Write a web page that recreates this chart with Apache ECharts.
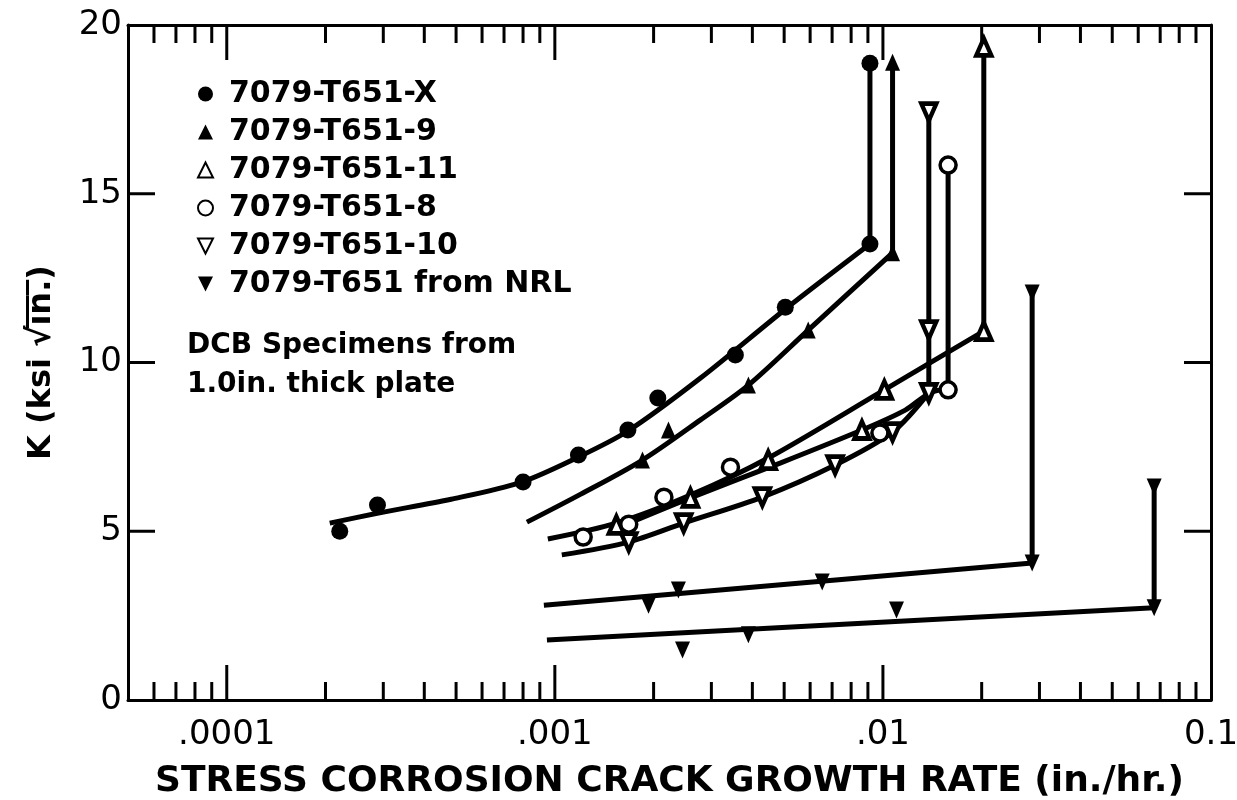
<!DOCTYPE html>
<html><head><meta charset="utf-8">
<script src="https://cdn.jsdelivr.net/npm/echarts@6/dist/echarts.min.js"></script>
<style>html,body{margin:0;padding:0;background:#fff}#c{width:1237px;height:800px}</style>
</head><body><div id="c"></div>
<script>
// ---- axis ticks / labels ----
const xTickValues = [0.0001, 0.001, 0.01, 0.1];
const xTickLabels = ['.0001', '.001', '.01', '0.1'];
const xMajorTickValues = [0.0001, 0.001, 0.01];
const xMinorTickValues = [
  6e-5, 7e-5, 8e-5, 9e-5,
  2e-4, 3e-4, 4e-4, 5e-4, 6e-4, 7e-4, 8e-4, 9e-4,
  2e-3, 3e-3, 4e-3, 5e-3, 6e-3, 7e-3, 8e-3, 9e-3,
  2e-2, 3e-2, 4e-2, 5e-2, 6e-2, 7e-2, 8e-2, 9e-2
];
const yTickValues = [5, 10, 15];
const seriesNames = ['7079-T651-X', '7079-T651-9', '7079-T651-11', '7079-T651-8', '7079-T651-10', '7079-T651 from NRL'];

// ---- 7079-T651-X (filled circles) ----
const ptsX = [[2.21e-4,5.0],[2.88e-4,5.78],[8.0e-4,6.46],[1.18e-3,7.26],[1.67e-3,8.0],[2.06e-3,8.95],[3.55e-3,10.22],[5.04e-3,11.64],[9.13e-3,13.51],[9.13e-3,18.87]];
const curveX = [[2.06e-4,5.24],[2.90e-4,5.54],[4.83e-4,5.95],[7.88e-4,6.45],[1.18e-3,7.2],[1.67e-3,7.97],[2.78e-3,9.54],[5.04e-3,11.58],[9.13e-3,13.51]];
const riseX = [[9.13e-3,13.51],[9.13e-3,18.87]];

// ---- 7079-T651-9 (filled triangles) ----
const pts9 = [[1.85e-3,7.11],[2.22e-3,8.0],[3.89e-3,9.33],[5.92e-3,10.96],[1.07e-2,13.25],[1.07e-2,18.9]];
const curve9 = [[8.22e-4,5.27],[1.2e-3,6.1],[1.85e-3,7.11],[2.78e-3,8.3],[3.89e-3,9.33],[5.92e-3,10.96],[1.07e-2,13.25]];
const rise9 = [[1.07e-2,13.25],[1.07e-2,18.9]];

// ---- 7079-T651-11 (open triangles) ----
const pts11 = [[1.54e-3,5.19],[2.59e-3,5.99],[4.47e-3,7.11],[8.63e-3,8.0],[1.01e-2,9.19],[2.03e-2,10.93],[2.03e-2,19.35]];
const curve11 = [[9.52e-4,4.77],[1.54e-3,5.24],[2.59e-3,6.07],[4.47e-3,7.17],[1.01e-2,9.19],[2.03e-2,10.93]];
const rise11 = [[2.03e-2,10.93],[2.03e-2,19.35]];

// ---- 7079-T651-8 (open circles) ----
const pts8 = [[1.22e-3,4.83],[1.68e-3,5.21],[2.15e-3,6.01],[3.43e-3,6.9],[9.79e-3,7.91],[1.58e-2,9.19],[1.58e-2,15.85]];
const curve8 = [[1.68e-3,5.24],[2.59e-3,5.99],[4.86e-3,7.02],[8.63e-3,8.0],[1.17e-2,8.59],[1.39e-2,9.1],[1.58e-2,9.22]];
const rise8 = [[1.58e-2,9.19],[1.58e-2,15.85]];

// ---- 7079-T651-10 (open down triangles) ----
const pts10 = [[1.68e-3,4.68],[2.47e-3,5.24],[4.29e-3,6.01],[7.15e-3,6.96],[1.07e-2,7.94],[1.38e-2,9.1],[1.38e-2,10.96],[1.38e-2,17.42]];
const curve10 = [[1.05e-3,4.3],[1.68e-3,4.68],[2.47e-3,5.24],[4.29e-3,6.01],[7.15e-3,6.96],[1.07e-2,7.94],[1.38e-2,9.1]];
const rise10 = [[1.38e-2,9.1],[1.38e-2,17.42]];

// ---- 7079-T651 from NRL (filled down triangles) ----
const ptsNRL = [[1.93e-3,2.81],[2.38e-3,3.26],[6.53e-3,3.5],[2.85e-2,4.06],[2.85e-2,12.06],[2.45e-3,1.48],[3.89e-3,1.93],[1.10e-2,2.67],[6.71e-2,2.73],[6.71e-2,6.31]];
const curveNRLa = [[9.26e-4,2.81],[2.85e-2,4.06]];
const riseNRLa = [[2.85e-2,4.06],[2.85e-2,12.06]];
const curveNRLb = [[9.46e-4,1.78],[6.71e-2,2.73]];
const riseNRLb = [[6.71e-2,2.73],[6.71e-2,6.31]];

const FONT = 'DejaVu Sans';
const DOWN_TRI = 'path://M0,0L10,0L5,10Z';
const UP_TRI = 'path://M5,0L10,10L0,10Z';
const Y_MIN = 0, Y_MAX = 20;

function curve(data, smooth) {
  return {type:'line', data, smooth: smooth ? 0.3 : false, symbol:'none', silent:true,
    lineStyle:{color:'#000', width:5}, z:2};
}
function pts(name, data, symbol, size, open, bw) {
  return {type:'scatter', name, data, symbol, symbolSize:size, z:5,
    itemStyle:{color: open ? '#fff' : '#000', borderColor:'#000', borderWidth: open ? bw : 0, opacity:1}};
}
function xTicks(values, len) {
  return {type:'custom', silent:true, clip:false, z:3,
    data: values.map(v=>[v, Y_MIN]),
    renderItem:(params, api)=>{
      const v = api.value(0);
      const b = api.coord([v, Y_MIN]); const t = api.coord([v, Y_MAX]);
      return {type:'group', children:[
        {type:'line', shape:{x1:b[0], y1:b[1], x2:b[0], y2:b[1]-len}, style:{stroke:'#000', lineWidth:3}},
        {type:'line', shape:{x1:t[0], y1:t[1], x2:t[0], y2:t[1]+len}, style:{stroke:'#000', lineWidth:3}}
      ]};
    }};
}
function yTicks(values, len) {
  return {type:'custom', silent:true, clip:false, z:3,
    data: values.map(v=>[5e-5, v]),
    renderItem:(params, api)=>{
      const v = api.value(1);
      const l = api.coord([5e-5, v]); const r = api.coord([0.1, v]);
      return {type:'group', children:[
        {type:'line', shape:{x1:l[0], y1:l[1], x2:l[0]+len, y2:l[1]}, style:{stroke:'#000', lineWidth:3}},
        {type:'line', shape:{x1:r[0], y1:r[1], x2:r[0]-len, y2:r[1]}, style:{stroke:'#000', lineWidth:3}}
      ]};
    }};
}

const chart = echarts.init(document.getElementById('c'), null, {renderer:'canvas'});
const axisLine = {show:true, onZero:false, lineStyle:{color:'#000', width:3}};
chart.setOption({
  backgroundColor:'#fff',
  animation:false,
  grid:{left:128, right:26, top:25, bottom:100, outerBoundsMode:'none', containLabel:false},
  legend:{
    data: seriesNames.map((n,i)=>({name:n, icon: [ 'circle', UP_TRI, UP_TRI, 'circle', DOWN_TRI, DOWN_TRI ][i]})),
    orient:'vertical', left:192, top:74, itemWidth:15, itemHeight:15, itemGap:8,
    selectedMode:false,
    textStyle:{fontFamily:FONT, fontWeight:'bold', fontSize:30, color:'#000', lineHeight:30, padding:[0,0,0,11]}
  },
  xAxis:[
    {type:'log', logBase:10, min:5e-5, max:0.1, position:'bottom',
     axisLine, splitLine:{show:false}, axisTick:{show:false},
     axisLabel:{show:true, margin:18, color:'#000', fontFamily:FONT, fontSize:34,
       formatter:(v)=>{const i = xTickValues.findIndex(t=>Math.abs(Math.log10(t)-Math.log10(v))<1e-6); return i>=0 ? xTickLabels[i] : '';}},
     name:'STRESS CORROSION CRACK GROWTH RATE (in./hr.)', nameLocation:'middle', nameGap:64,
     nameTextStyle:{fontFamily:FONT, fontWeight:'bold', fontSize:36, color:'#000'}},
    {type:'log', logBase:10, min:5e-5, max:0.1, position:'top',
     axisLine, splitLine:{show:false}, axisTick:{show:false}, axisLabel:{show:false}}
  ],
  yAxis:[
    {type:'value', min:Y_MIN, max:Y_MAX, interval:5, position:'left',
     axisLine, splitLine:{show:false}, axisTick:{show:false},
     axisLabel:{show:true, margin:6, color:'#000', fontFamily:FONT, fontSize:34, padding:[6,0,0,0]},
     name:'K (ksi √i\u0305n\u0305.\u0305)', nameLocation:'middle', nameGap:70, nameRotate:90,
     nameTextStyle:{fontFamily:FONT, fontWeight:'bold', fontSize:32, color:'#000'}},
    {type:'value', min:Y_MIN, max:Y_MAX, interval:5, position:'right',
     axisLine, splitLine:{show:false}, axisTick:{show:false}, axisLabel:{show:false}}
  ],
  graphic:[
    {type:'text', left:187, top:326, style:{text:'DCB Specimens from\n1.0in. thick plate', fontFamily:FONT, fontWeight:'bold', fontSize:28, lineHeight:39, fill:'#000'}}
  ],
  series:[
    xTicks(xMinorTickValues, 18),
    xTicks(xMajorTickValues, 35),
    yTicks(yTickValues, 27),
    curve(curveX, true), curve(riseX, false),
    curve(curve9, true), curve(rise9, false),
    curve(curve11, true), curve(rise11, false),
    curve(curve8, true), curve(rise8, false),
    curve(curve10, true), curve(rise10, false),
    curve(curveNRLa, false), curve(riseNRLa, false),
    curve(curveNRLb, false), curve(riseNRLb, false),
    pts(seriesNames[0], ptsX, 'circle', 17, false, 0),
    pts(seriesNames[1], pts9, UP_TRI, [15,17], false, 0),
    pts(seriesNames[2], pts11, UP_TRI, [15,17], true, 4.5),
    pts(seriesNames[3], pts8, 'circle', 16, true, 3.5),
    pts(seriesNames[4], pts10, DOWN_TRI, [15,17], true, 4.5),
    pts(seriesNames[5], ptsNRL, DOWN_TRI, [15,17], false, 0)
  ]
});
</script></body></html>
